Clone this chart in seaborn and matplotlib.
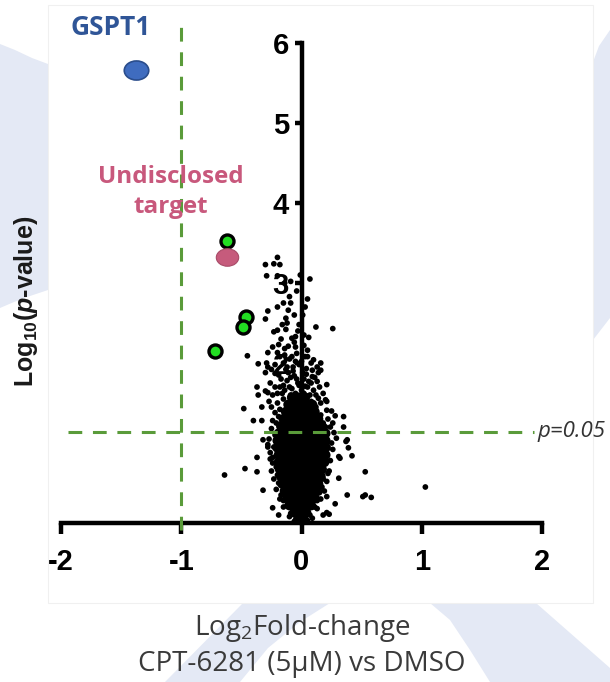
import matplotlib
matplotlib.use("Agg")
import matplotlib.pyplot as plt
import seaborn as sns
from matplotlib.path import Path
from matplotlib.transforms import Affine2D
from matplotlib.patches import Polygon, Rectangle

# ---- data (log2 fold-change, -log10 p) ----
gspt1_x = [-1.38]
gspt1_y = [5.66]
target_x = [-0.62]
target_y = [3.32]
hits_x = [-0.62, -0.46, -0.49, -0.72]
hits_y = [3.52, 2.58, 2.45, 2.15]

# scattered proteins
dots_x = [-0.20, -0.30, -0.23, -0.18, -0.29, -0.20, -0.09, 0.07, -0.10, 0.05, -0.09, -0.28,
          -0.20, -0.11, -0.30, -0.13, -0.16, -0.02, 0.12, 0.26, -0.20, -0.23, -0.13, -0.05,
          -0.08, 0.06, -0.24, -0.19, -0.11, -0.28, 0.05, -0.45, -0.20, -0.18, -0.08, 0.05,
          0.10, 0.16, -0.36, -0.29, -0.22, -0.15, -0.07, -0.30, 0.09, 0.14, 0.01,
          0.13, 0.16, 0.09, 0.06, 0.13, 0.21, 0.10, 0.12, 0.14, 0.20, 0.05, 0.21, 0.28, 0.35,
          0.16, 0.26, 0.35, 0.18, 0.27, 0.38, 0.39, 0.31, 0.42,
          -0.28, -0.37, -0.36, -0.28, -0.48, -0.33, -0.18, 0.21, -0.40, -0.33, -0.32, -0.28,
          0.29, 0.37, -0.37, -0.24, 0.32, -0.47, -0.37, -0.64, 0.53, -0.32, 0.31, 0.21, 0.38,
          0.51, 0.53, 0.58, -0.24, -0.19, 0.28, 0.21, 0.18, 1.03, 0.23,
          -0.05, 0.00, 0.03, -0.03, 0.02, -0.06, 0.04, -0.02, -0.10, -0.12, 0.07, -0.09, -0.14,
          -0.07, -0.11, 0.00, -0.04, 0.02, -0.03, 0.01, -0.15, -0.20, -0.22, -0.17, -0.24,
          -0.12, 0.05, 0.03, -0.01, -0.26, -0.22, 0.18, 0.08, -0.14, -0.05,
          -0.22, -0.23, -0.21, -0.19, -0.17, 0.21, 0.22, 0.20, 0.18, 0.15, -0.12, 0.11, 0.24,
          -0.25, 0.19, -0.26, -0.20, 0.17, -0.15, 0.13, -0.09, 0.07, -0.21, 0.22, 0.25, 0.23,
          -0.24, -0.27,
          -0.25, -0.18, -0.27, -0.12, 0.12, 0.16, 0.08, -0.20, -0.08, 0.02, 0.08, -0.15, -0.04,
          0.11, -0.19, -0.09, -0.25, -0.13, 0.04, -0.02, -0.06, 0.15, -0.22, -0.30, -0.16, 0.10,
          -0.19, -0.24, 0.25, 0.20, -0.05, -0.10, 0.03, -0.14, -0.06, -0.17, 0.02, -0.12, -0.06,
          -0.15, -0.04, 0.03, -0.01, -0.14,
          -0.15, 0.13, -0.18, 0.16, -0.21, 0.19, -0.23, 0.21, -0.25, 0.22, -0.26, 0.24, -0.28,
          0.26, -0.06, 0.05, -0.10, 0.09]
dots_y = [3.32, 3.23, 3.24, 3.23, 3.09, 3.09, 3.02, 3.05, 2.83, 2.80, 2.75, 2.65,
          2.70, 2.66, 2.55, 2.56, 2.48, 2.48, 2.45, 2.43, 2.41, 2.39, 2.42, 2.33,
          2.31, 2.32, 2.20, 2.23, 2.21, 2.13, 2.16, 2.09, 2.13, 2.08, 2.08, 2.08,
          2.04, 2.00, 1.99, 2.00, 1.98, 2.00, 1.95, 1.88, 1.91, 1.88, 1.88,
          1.95, 1.91, 1.83, 1.77, 1.77, 1.73, 1.66, 1.60, 1.56, 1.54, 1.48, 1.41, 1.34, 1.33,
          1.35, 1.25, 1.20, 1.25, 1.13, 1.04, 0.94, 0.83, 0.84,
          1.95, 1.70, 1.60, 1.63, 1.43, 1.45, 1.70, 1.52, 1.28, 1.28, 1.04, 0.95,
          1.06, 1.02, 0.82, 0.82, 0.81, 0.68, 0.64, 0.60, 0.64, 0.41, 0.56, 0.33, 0.35,
          0.33, 0.35, 0.32, 0.19, 0.10, 0.24, 0.13, 0.10, 0.45, 0.11,
          1.62, 1.66, 1.71, 1.75, 1.80, 1.84, 1.93, 1.98, 1.70, 1.78, 1.60, 1.60, 1.66,
          1.90, 1.88, 2.02, 2.12, 2.22, 2.40, 2.60, 1.55, 1.50, 1.38, 1.80, 1.60,
          1.95, 1.70, 1.55, 1.52, 1.75, 1.87, 1.62, 2.00, 2.10, 2.20,
          1.10, 0.95, 0.70, 0.50, 0.35, 1.12, 0.95, 0.75, 0.55, 0.38, 0.22, 0.20, 1.20,
          1.18, 0.88, 0.88, 0.60, 0.45, 0.28, 0.28, 0.12, 0.10, 1.25, 1.30, 1.00, 0.65,
          0.75, 1.05,
          1.45, 1.42, 1.52, 1.48, 1.45, 1.50, 1.52, 1.62, 1.68, 1.62, 1.75, 1.72, 1.80,
          1.82, 1.85, 1.82, 1.92, 1.92, 1.86, 1.72, 1.56, 1.70, 1.70, 1.65, 1.62, 1.35,
          1.33, 1.28, 1.40, 1.20, 2.02, 2.05, 2.08, 2.18, 2.26, 2.30, 2.35, 2.50, 2.60,
          2.75, 2.90, 2.70, 3.10, 3.00,
          0.20, 0.18, 0.30, 0.30, 0.42, 0.40, 0.55, 0.52, 0.65, 0.62, 0.80, 0.78, 0.98,
          0.92, 0.02, 0.03, 0.08, 0.06]

# dense core of the volcano (rows of points at each level)
core_levels = [0.04, 0.13, 0.22, 0.31, 0.40, 0.49, 0.58, 0.67, 0.76, 0.85, 0.94, 1.03,
               1.12, 1.21, 1.30, 1.39, 1.48, 1.57]
core_rows = [
    [-0.03, 0.02],
    [-0.06, -0.01, 0.04],
    [-0.10, -0.05, 0.00, 0.05, 0.08],
    [-0.12, -0.07, -0.02, 0.03, 0.07, 0.11],
    [-0.14, -0.09, -0.04, 0.01, 0.06, 0.10, 0.13],
    [-0.16, -0.11, -0.06, -0.01, 0.04, 0.09, 0.14],
    [-0.17, -0.12, -0.07, -0.02, 0.03, 0.08, 0.13, 0.16],
    [-0.18, -0.13, -0.08, -0.03, 0.02, 0.07, 0.12, 0.17],
    [-0.19, -0.14, -0.09, -0.04, 0.01, 0.06, 0.11, 0.16, 0.19],
    [-0.19, -0.14, -0.09, -0.04, 0.01, 0.06, 0.11, 0.16, 0.20],
    [-0.20, -0.15, -0.10, -0.05, 0.00, 0.05, 0.10, 0.15, 0.20],
    [-0.20, -0.15, -0.10, -0.05, 0.00, 0.05, 0.10, 0.15, 0.20],
    [-0.19, -0.14, -0.09, -0.04, 0.01, 0.06, 0.11, 0.16, 0.20],
    [-0.17, -0.12, -0.07, -0.02, 0.03, 0.08, 0.13, 0.17],
    [-0.15, -0.10, -0.05, 0.00, 0.05, 0.10, 0.14],
    [-0.13, -0.08, -0.03, 0.02, 0.07, 0.11],
    [-0.11, -0.05, 0.00, 0.05, 0.09],
    [-0.08, -0.02, 0.03],
]
core_x = [x for row in core_rows for x in row]
core_y = [lvl for lvl, row in zip(core_levels, core_rows) for _ in row]

x_ticks = [-2, -1, 0, 1, 2]
x_ticklabels = ["-2", "-1", "0", "1", "2"]
y_ticks = [1, 2, 3, 4, 5, 6]
fc_cut = -1.0
p_cut = 1.14

# ---- style ----
sns.set_style("white")
plt.rcParams["font.family"] = ["Open Sans", "DejaVu Sans"]
plt.rcParams["mathtext.fontset"] = "custom"
plt.rcParams["mathtext.rm"] = "Open Sans"
plt.rcParams["mathtext.it"] = "Liberation Sans:italic:bold"
plt.rcParams["mathtext.bf"] = "Liberation Sans:bold"

W, H = 610, 682
fig = plt.figure(figsize=(W / 100, H / 100), dpi=100)
fig.patch.set_facecolor("white")


def px(x, y):
    return (x / W, 1 - y / H)


# slide background decoration
lav = "#e4e9f5"
shapes = [
    [(0, 44), (15, 50), (32, 58), (48, 64), (48, 290), (30, 296), (14, 302), (0, 308)],
    [(593, 62), (599, 46), (610, 30), (610, 318), (593, 340)],
    [(165, 682), (243, 603), (330, 603), (300, 622), (268, 648), (240, 682)],
    [(430, 603), (536, 603), (610, 668), (610, 682), (490, 682), (470, 650), (450, 620)],
]
for s in shapes:
    fig.patches.append(Polygon([px(*p) for p in s], closed=True, transform=fig.transFigure,
                               facecolor=lav, edgecolor="none", zorder=-2))
fig.patches.append(Rectangle(px(48, 603), 545 / W, 598 / H, transform=fig.transFigure,
                             facecolor="white", edgecolor="#f0f0f0", lw=0.8, zorder=-1))

ax = fig.add_axes([61 / W, 1 - 523 / H, 481 / W, 480 / H])
ax.set_zorder(1)
ax.patch.set_alpha(0)

ell = Path.unit_circle().transformed(Affine2D().scale(1.0, 0.78))

sns.scatterplot(x=core_x, y=core_y, ax=ax, s=52, color="black", edgecolor="none",
                linewidth=0, zorder=3, clip_on=False, legend=False)
sns.scatterplot(x=dots_x, y=dots_y, ax=ax, s=17, color="black", edgecolor="none",
                linewidth=0, zorder=3, clip_on=False, legend=False)
sns.scatterplot(x=hits_x, y=hits_y, ax=ax, s=88, color="#22dd22", edgecolor="black",
                linewidth=2.4, zorder=4, legend=False)
sns.scatterplot(x=target_x, y=target_y, ax=ax, marker=ell, s=260, color="#c65b7c",
                edgecolor="#a84b68", linewidth=0.8, zorder=4.5, legend=False)
sns.scatterplot(x=gspt1_x, y=gspt1_y, ax=ax, marker=ell, s=310, color="#3f6cbf",
                edgecolor="#2a4d8c", linewidth=1.2, zorder=4.5, legend=False)

green = "#5a9b3a"
ax.plot([fc_cut, fc_cut], [-0.09, 6.2], color=green, lw=2.2, ls=(0, (4.5, 3.5)),
        zorder=5, clip_on=False)
ax.plot([-1.94, 1.93], [p_cut, p_cut], color=green, lw=2.2, ls=(0, (4.5, 3.5)),
        zorder=5, clip_on=False)
ax.text(1.965, p_cut, "p=0.05", fontsize=16, style="italic", color="#333333",
        ha="left", va="center", clip_on=False)

ax.set_xlim(-2, 2)
ax.set_ylim(0, 6)
for side in ["top", "right"]:
    ax.spines[side].set_visible(False)
ax.spines["left"].set_position(("data", 0))
for side in ["left", "bottom"]:
    ax.spines[side].set_linewidth(3.2)
    ax.spines[side].set_color("black")
ax.set_xticks(x_ticks)
ax.set_xticklabels(x_ticklabels)
ax.set_yticks(y_ticks)
ax.set_yticklabels([str(t) for t in y_ticks])
ax.tick_params(axis="x", bottom=True, direction="out", length=8, width=3.2, pad=10,
               labelsize=21, color="black", labelcolor="black")
ax.tick_params(axis="y", left=True, direction="out", length=5, width=3.2, pad=4,
               labelsize=21, color="black", labelcolor="black")
for lbl in ax.get_xticklabels() + ax.get_yticklabels():
    lbl.set_family("Liberation Sans")
    lbl.set_fontweight("bold")
ax.set_xlabel("")
ax.set_ylabel("")

# annotations
ax.text(-1.59, 6.19, "GSPT1", fontsize=19, fontweight="bold", color="#2f5597",
        ha="center", va="center", clip_on=False)
ax.text(-1.09, 4.25, "Undisclosed", fontsize=17.5, fontweight="bold", color="#c8587c",
        ha="center", va="baseline", zorder=6)
ax.text(-1.09, 3.875, "target", fontsize=17.5, fontweight="bold", color="#c8587c",
        ha="center", va="baseline", zorder=6)

fig.text(*px(26, 301), r"Log$_{\mathbf{10}}$($p$-value)", rotation=90, fontsize=18,
         family="Liberation Sans", fontweight="bold", color="#1a1a1a",
         ha="center", va="center")
fig.text(*px(302, 628), r"Log$_{\mathrm{2}}$Fold-change", fontsize=20, color="#3a3a3a",
         ha="center", va="center")
fig.text(*px(302, 664), "CPT-6281 (5µM) vs DMSO", fontsize=20, color="#3a3a3a",
         ha="center", va="center")

fig.savefig("out.png", dpi=100)
